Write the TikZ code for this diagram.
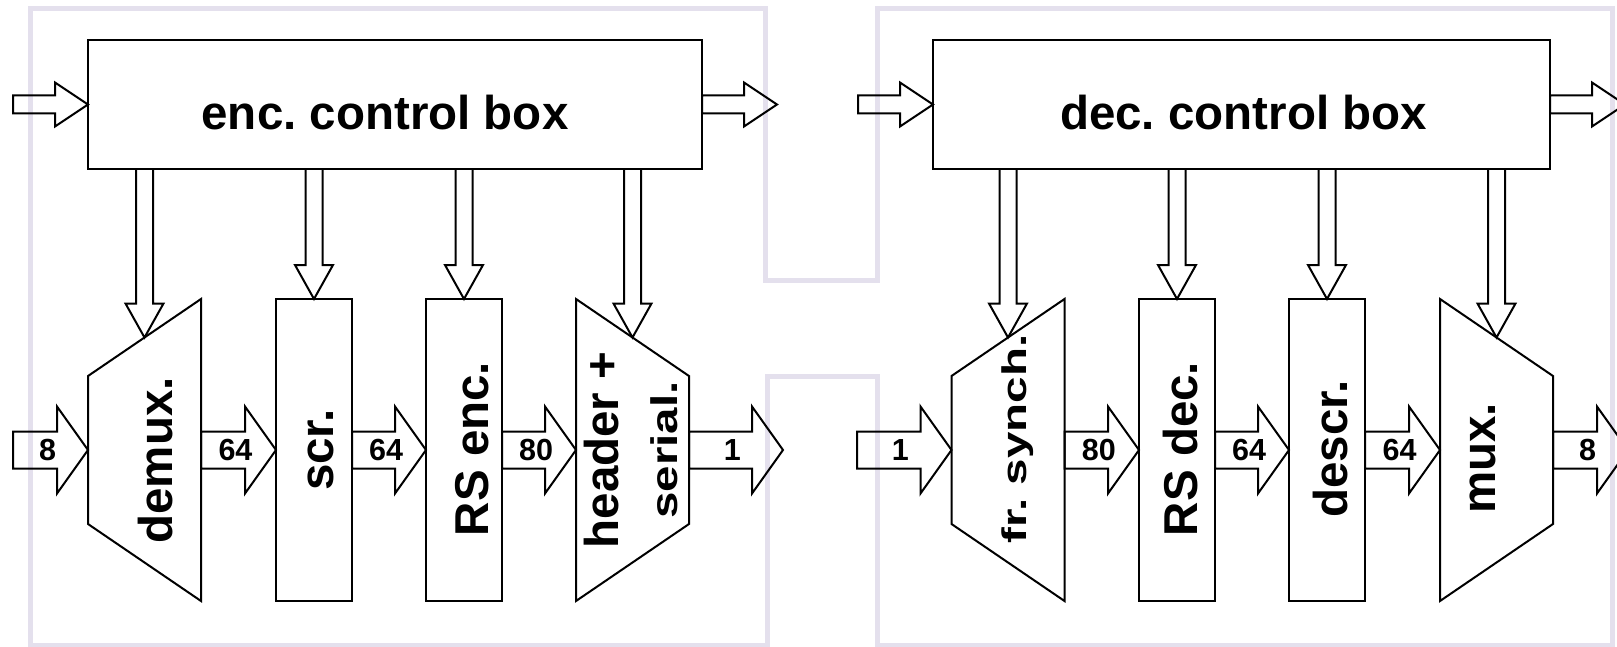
\documentclass[tikz,border=0pt]{standalone}
\usepackage{fontspec}
\setmainfont{Liberation Sans}
\usepackage{graphicx}
\usepackage{tikz}
\usetikzlibrary{calc}
\usetikzlibrary{positioning}
\frenchspacing

\definecolor{framegray}{RGB}{228,224,237}

% hollow block arrows: from, to, half shaft, half head, head length
\newcommand{\blockarrow}[5]{%
  \draw[blockline] let \p1=(#1), \p2=(#2) in
    (\x1,{\y2+#3}) -- ({\x2-#5},{\y2+#3}) -- ({\x2-#5},{\y2+#4}) -- (\x2,\y2)
    -- ({\x2-#5},{\y2-#4}) -- ({\x2-#5},{\y2-#3}) -- (\x1,{\y2-#3}) -- cycle;}
\newcommand{\busarrow}[3]{%
  \blockarrow{#1}{#2}{18.5pt}{43.5pt}{31pt}
  \path (#1) -- (#2) node[pos=0.46, buslabel] {#3};}
\newcommand{\ctrlarrow}[2]{\blockarrow{#1}{#2}{9pt}{22pt}{33pt}}
\newcommand{\ctrldown}[2]{%
  \draw[blockline] let \p1=(#2), \p2=(#1.south) in
    ({\x1-8.5pt},\y2) -- ({\x1-8.5pt},{\y1+34pt}) -- ({\x1-19pt},{\y1+34pt}) -- (\x1,\y1)
    -- ({\x1+19pt},{\y1+34pt}) -- ({\x1+8.5pt},{\y1+34pt}) -- ({\x1+8.5pt},\y2);}

\begin{document}
\begin{tikzpicture}[x=1pt, y=-1pt,
    blockline/.style={draw, line width=2pt},
    ctrlbox/.style={blockline, minimum width=614pt, minimum height=129pt, outer sep=0pt, inner sep=0pt},
    blockbox/.style={blockline, minimum width=76pt, minimum height=302pt, outer sep=0pt, inner sep=0pt},
    trapbox/.style={minimum width=113pt, minimum height=302pt, outer sep=0pt, inner sep=0pt},
    bigtext/.style={font=\fontsize{47.5}{59}\selectfont\bfseries, inner sep=0pt},
    vlabel/.style={bigtext, rotate=90, anchor=base},
    buslabel/.style={font=\fontsize{30.5}{36}\selectfont\bfseries, inner sep=0pt},
    grayframe/.style={draw=framegray, line width=5pt}]
  \useasboundingbox (0,0) rectangle (1617,647);

  \draw[grayframe] (30.5,8.5) -- (765.5,8.5) -- (765.5,280.5) -- (877.5,280.5) -- (877.5,8.5)
    -- (1612.5,8.5) -- (1612.5,645) -- (877.5,645) -- (877.5,376) -- (767,376) -- (767,645)
    -- (30.5,645) -- cycle;

  \node[ctrlbox] (encctrl) at (395,104.5) {};
  \node[ctrlbox, minimum width=617pt] (decctrl) at (1241.5,104.5) {};
  \node[bigtext, anchor=base] (encctrl-text) at (385,130) {enc. control box};
  \node[bigtext, anchor=base] (decctrl-text) at (1243.5,130) {dec. control box};

  \node[trapbox] (demux) at (144.5,450) {};
  \node[blockbox] (scr) at (314,450) {};
  \node[blockbox] (rsenc) at (464,450) {};
  \node[trapbox] (header) at (632.5,450) {};
  \node[trapbox] (frsynch) at (1008,450) {};
  \node[blockbox] (rsdec) at (1177,450) {};
  \node[blockbox] (descr) at (1327,450) {};
  \node[trapbox] (mux) at (1496.5,450) {};

  \draw[blockline] (demux.north east) -- (demux.south east) -- ($(demux.west)+(0,74)$) -- ($(demux.west)+(0,-74)$) -- cycle;
  \draw[blockline] (header.north west) -- (header.south west) -- ($(header.east)+(0,74)$) -- ($(header.east)+(0,-74)$) -- cycle;
  \draw[blockline] (frsynch.north east) -- (frsynch.south east) -- ($(frsynch.west)+(0,74)$) -- ($(frsynch.west)+(0,-74)$) -- cycle;
  \draw[blockline] (mux.north west) -- (mux.south west) -- ($(mux.east)+(0,74)$) -- ($(mux.east)+(0,-74)$) -- cycle;

  \node[vlabel] (demux-text) at (172,460.5) {demux.};
  \node[vlabel] (scr-text) at (333,450) {scr.};
  \node[vlabel] (rsenc-text) at (488,449) {RS enc.};
  \node[bigtext, rotate=90, align=center] (header-text) at (630.5,450) {header +\\\scalebox{1}[0.78]{serial.}};
  \node[vlabel] (frsynch-text) at (1026,439) {\scalebox{1}[0.72]{fr. synch.}};
  \node[vlabel] (rsdec-text) at (1197,449) {RS dec.};
  \node[vlabel] (descr-text) at (1347,449) {descr.};
  \node[vlabel] (mux-text) at (1495,458.5) {mux.};

  \coordinate (encin) at (13,104.5);
  \coordinate (encout) at (777,104.5);
  \coordinate (decin) at (858,104.5);
  \coordinate (decout) at (1625,104.5);
  \ctrlarrow{encin}{encctrl.west}
  \ctrlarrow{encctrl.east}{encout}
  \ctrlarrow{decin}{decctrl.west}
  \ctrlarrow{decctrl.east}{decout}

  \coordinate (demux-top) at ($(demux.north)+(0,38.5)$);
  \coordinate (header-top) at ($(header.north)+(0,38.5)$);
  \coordinate (frsynch-top) at ($(frsynch.north)+(0,38.5)$);
  \coordinate (mux-top) at ($(mux.north)+(0,38.5)$);
  \ctrldown{encctrl}{demux-top}
  \ctrldown{encctrl}{scr.north}
  \ctrldown{encctrl}{rsenc.north}
  \ctrldown{encctrl}{header-top}
  \ctrldown{decctrl}{frsynch-top}
  \ctrldown{decctrl}{rsdec.north}
  \ctrldown{decctrl}{descr.north}
  \ctrldown{decctrl}{mux-top}

  \coordinate (busin) at (13,450);
  \coordinate (busout) at (783,450);
  \coordinate (busin2) at (857,450);
  \coordinate (busout2) at (1628,450);
  \busarrow{busin}{demux.west}{8}
  \busarrow{demux.east}{scr.west}{64}
  \busarrow{scr.east}{rsenc.west}{64}
  \busarrow{rsenc.east}{header.west}{80}
  \busarrow{header.east}{busout}{1}
  \busarrow{busin2}{frsynch.west}{1}
  \busarrow{frsynch.east}{rsdec.west}{80}
  \busarrow{rsdec.east}{descr.west}{64}
  \busarrow{descr.east}{mux.west}{64}
  \busarrow{mux.east}{busout2}{8}
\end{tikzpicture}
\end{document}
